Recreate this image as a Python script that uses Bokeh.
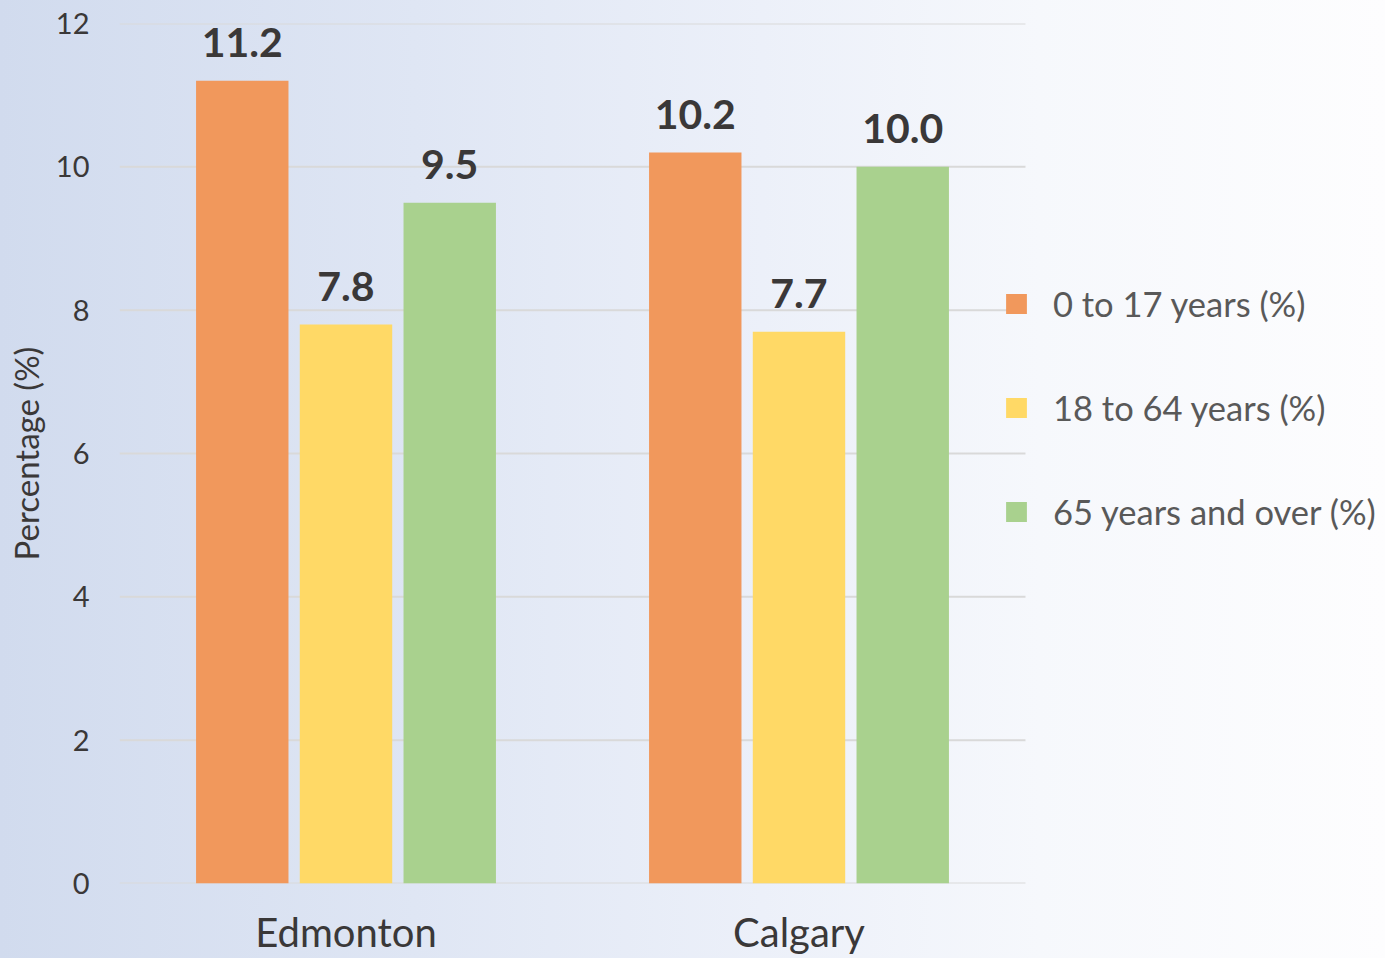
from bokeh.plotting import figure
from bokeh.models import ColumnDataSource, FixedTicker, Legend, LegendItem, LabelSet, Range1d
from bokeh.core.properties import value
from bokeh.transform import dodge
from bokeh.embed import file_html
from bokeh.resources import INLINE

cities = ["Edmonton", "Calgary"]
series = ["0 to 17 years (%)", "18 to 64 years (%)", "65 years and over (%)"]
age_0_17 = [11.2, 10.2]
age_18_64 = [7.8, 7.7]
age_65_over = [9.5, 10.0]
y_ticks = [0, 2, 4, 6, 8, 10, 12]

colors = ["#F1985C", "#FFD966", "#A9D18E"]
offsets = [-0.229, 0.0, 0.229]
FONT = "Lato"

# category centres (one unit per city)
centres = [i + 0.5 for i in range(len(cities))]
n_cat = len(cities)
x_end = n_cat * (1266 / 906)  # frame spans past the categories to host the legend

src = ColumnDataSource(dict(
    xc=centres,
    a=age_0_17, b=age_18_64, c=age_65_over,
    la=[f"{v:.1f}" for v in age_0_17],
    lb=[f"{v:.1f}" for v in age_18_64],
    lc=[f"{v:.1f}" for v in age_65_over],
))

p = figure(width=1385, height=958, output_backend="svg", toolbar_location=None,
           x_range=Range1d(0, x_end), y_range=Range1d(0, 12),
           min_border_left=119, min_border_right=0, min_border_top=23, min_border_bottom=75)
p.styles = {"background": "linear-gradient(90deg, #d1dbee 0%, #dfe6f4 30%, #ecf0f9 55%, #f6f8fc 75%, #fdfdfe 100%)"}
p.border_fill_alpha = 0
p.background_fill_alpha = 0
p.outline_line_color = None

# horizontal gridlines limited to the category area
p.segment(x0=0, x1=n_cat, y0=y_ticks, y1=y_ticks, line_color="#d9d9d9", line_width=2)

renderers = []
for col, lab, color, off in zip(["a", "b", "c"], ["la", "lb", "lc"], colors, offsets):
    r = p.vbar(x=dodge("xc", off), top=col, width=0.204, bottom=0,
               source=src, fill_color=color, line_color=None)
    renderers.append(r)
    ls = LabelSet(x=dodge("xc", off), y=col, text=lab, source=src,
                  text_align="center", text_baseline="alphabetic", y_offset=24,
                  text_font=value(FONT), text_font_style="bold", text_font_size=value("41px"),
                  text_color="#3a3838")
    p.add_layout(ls)

p.xgrid.grid_line_color = None
p.ygrid.grid_line_color = None
p.yaxis.ticker = FixedTicker(ticks=y_ticks)
p.xaxis.ticker = FixedTicker(ticks=centres)
p.xaxis.major_label_overrides = {c: name for c, name in zip(centres, cities)}

for ax in (p.xaxis[0], p.yaxis[0]):
    ax.axis_line_color = None
    ax.major_tick_line_color = None
    ax.minor_tick_line_color = None
    ax.major_tick_out = 0
    ax.major_tick_in = 0
    ax.major_label_text_font = FONT
    ax.major_label_text_color = "#3a3838"

p.yaxis.major_label_text_font_size = "29px"
p.yaxis.major_label_standoff = 30
p.yaxis.axis_label = "Percentage (%)"
p.yaxis.axis_label_text_font = FONT
p.yaxis.axis_label_text_font_style = "normal"
p.yaxis.axis_label_text_font_size = "33px"
p.yaxis.axis_label_text_color = "#3a3838"
p.yaxis.axis_label_standoff = 7

p.xaxis.major_label_text_font_size = "40px"
p.xaxis.major_label_standoff = 24
p.xaxis.major_label_text_color = "#3a3838"

legend = Legend(items=[LegendItem(label=s, renderers=[r]) for s, r in zip(series, renderers)],
                location=(884, 350), orientation="vertical",
                glyph_width=26, glyph_height=25, label_height=44, spacing=60,
                label_standoff=24, padding=0, margin=0,
                label_text_font=FONT, label_text_font_size="34.5px", label_text_color="#595959",
                background_fill_alpha=0, border_line_color=None)
p.add_layout(legend, "center")

open("out.html", "w").write(file_html(p, INLINE))
